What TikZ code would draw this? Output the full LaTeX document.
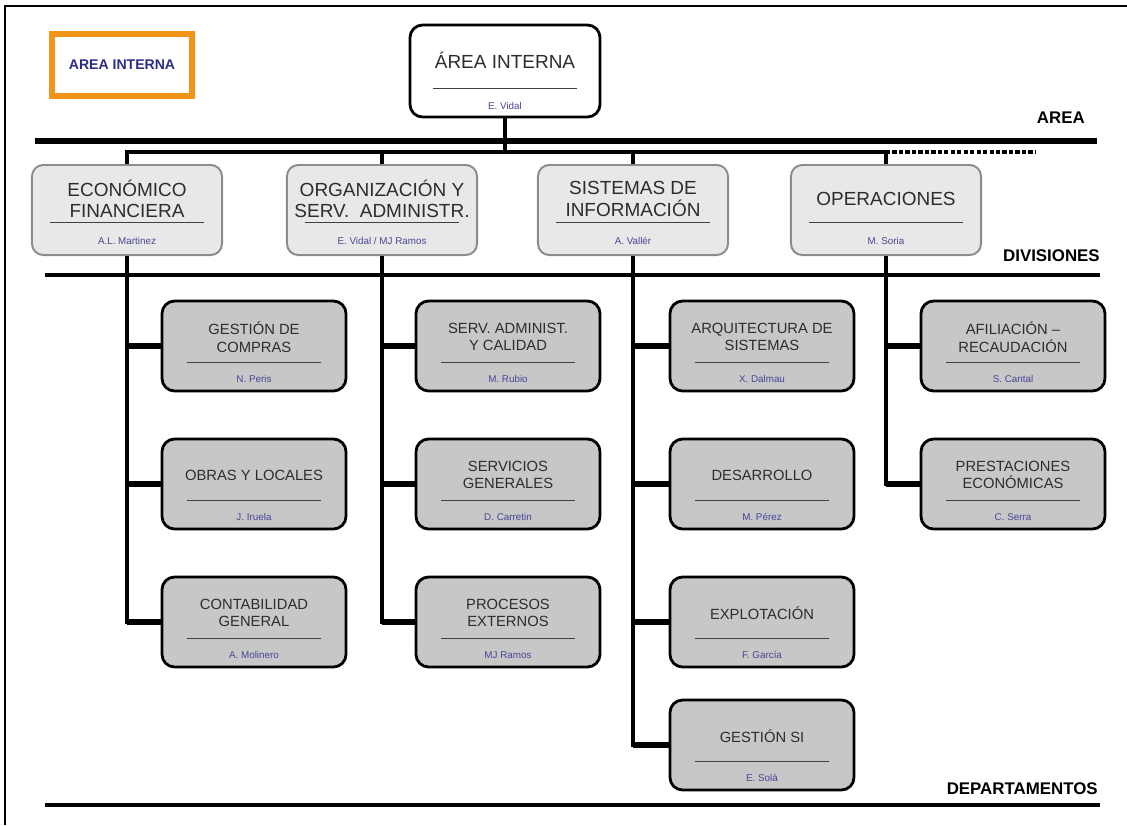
\documentclass[tikz,border=0pt]{standalone}
\usepackage{fontspec}
\setmainfont{Liberation Sans}

\definecolor{nombre}{RGB}{70,70,150}
\definecolor{titulo}{RGB}{45,45,45}
\definecolor{naranja}{RGB}{242,148,24}
\definecolor{marino}{RGB}{45,45,135}

\tikzset{
  jefe/.style={draw=black, line width=2pt, rounded corners=9pt, fill=white,
    minimum width=4.75cm, minimum height=2.3cm},
  division/.style={draw=black!45, line width=1.4pt, rounded corners=8pt, fill=black!9,
    minimum width=4.75cm, minimum height=2.25cm},
  depto/.style={draw=black, line width=2pt, rounded corners=9pt, fill=black!22,
    minimum width=4.6cm, minimum height=2.25cm},
  tit/.style={align=center, text=titulo, inner sep=0pt, font=\fontsize{10.5}{12.5}\selectfont},
  titdiv/.style={align=center, text=titulo, inner sep=0pt, font=\fontsize{13.5}{15}\selectfont},
  per/.style={text=nombre, inner sep=0pt, font=\fontsize{7}{8}\selectfont},
  raya/.style={draw=black!75, line width=0.7pt},
  nivel/.style={anchor=east, inner sep=0pt, font=\bfseries\fontsize{12}{14}\selectfont},
  regla/.style={line width=3pt},
  enlace/.style={line width=2.8pt},
  tronco/.style={line width=3pt},
  rama/.style={line width=4.4pt}
}

\begin{document}
\begin{tikzpicture}[x=0.025cm, y=-0.025cm]
\useasboundingbox (0,0) rectangle (1127,825);
\draw[line width=1pt] (5,825) -- (5,6) -- (1127,6);

\node[draw=naranja, line width=4pt, fill=white, minimum width=3.5cm, minimum height=1.55cm,
  text=marino, font=\bfseries\fontsize{10}{12}\selectfont] (ley) at (122,65) {AREA INTERNA};

% area
\node[jefe] (top) at (505,71) {};
\node[titdiv] at (505,60) {ÁREA INTERNA};
\draw[raya] (433,88) -- (577,88);
\node[per] at (505,106) {E. Vidal};

% divisiones
\foreach \nom/\cx/\txt/\jef in {ef/127/{ECONÓMICO\\FINANCIERA}/A.L. Martinez,
  org/382/{ORGANIZACIÓN Y\\SERV.\ \ ADMINISTR.}/{E. Vidal / MJ Ramos},
  si/633/{SISTEMAS DE\\INFORMACIÓN}/A. Vallér,
  op/886/{OPERACIONES}/M. Soria} {
\node[division] (\nom) at (\cx,210) {};
\node[titdiv] at (\cx,199) {\txt};
\draw[raya] (\cx-77,222) -- (\cx+77,222);
\node[per] at (\cx,241) {\jef};
}

% departamentos
\foreach \nom/\cx/\cy/\txt/\jef in {gc/254/346/{GESTIÓN DE\\COMPRAS}/N. Peris,
  ol/254/484/{OBRAS Y LOCALES}/J. Iruela,
  cg/254/622/{CONTABILIDAD\\GENERAL}/A. Molinero,
  sa/508/346/{SERV. ADMINIST.\\Y CALIDAD}/M. Rubio,
  sg/508/484/{SERVICIOS\\GENERALES}/D. Carretin,
  pe/508/622/{PROCESOS\\EXTERNOS}/MJ Ramos,
  as/762/346/{ARQUITECTURA DE\\SISTEMAS}/X. Dalmau,
  de/762/484/{DESARROLLO}/M. Pérez,
  ex/762/622/{EXPLOTACIÓN}/F. García,
  gs/762/745/{GESTIÓN SI}/E. Solá,
  ar/1013/346/{AFILIACIÓN –\\RECAUDACIÓN}/S. Cantal,
  pr/1013/484/{PRESTACIONES\\ECONÓMICAS}/C. Serra} {
\node[depto] (\nom) at (\cx,\cy) {};
\node[tit] at (\cx,\cy-9) {\txt};
\draw[raya] (\cx-67,\cy+16) -- (\cx+67,\cy+16);
\node[per] at (\cx,\cy+33) {\jef};
}

% niveles
\draw[regla, line width=4pt] (35,141) -- (1097,141);
\draw[regla] (45,275) -- (1100,275);
\draw[regla] (45,805) -- (1100,805);
\node[nivel] (lar) at (1085,118) {AREA};
\node[nivel] (ldi) at (1100,256) {DIVISIONES};
\node[nivel] (lde) at (1098,789) {DEPARTAMENTOS};

% enlaces
\coordinate (bus) at (0,152);
\draw[enlace] (top.south) -- (top.south |- bus);
\draw[enlace] (ef.north) -- (ef.north |- bus) -- (op.north |- bus) -- (op.north);
\foreach \n in {org,si} \draw[enlace] (\n.north) -- (\n.north |- bus);
\draw[line width=2.4pt, dash pattern=on 3pt off 1.6pt] (op.north |- bus) -- ++(149,0);

\foreach \d/\h in {ef/cg,org/pe,si/gs,op/pr} \draw[tronco] (\d.south) |- (\h.west);
\foreach \d/\h in {ef/gc,ef/ol,ef/cg,org/sa,org/sg,org/pe,si/as,si/de,si/ex,si/gs,op/ar,op/pr}
  \draw[rama] (\d.south |- \h.west) -- (\h.west);
\end{tikzpicture}
\end{document}
